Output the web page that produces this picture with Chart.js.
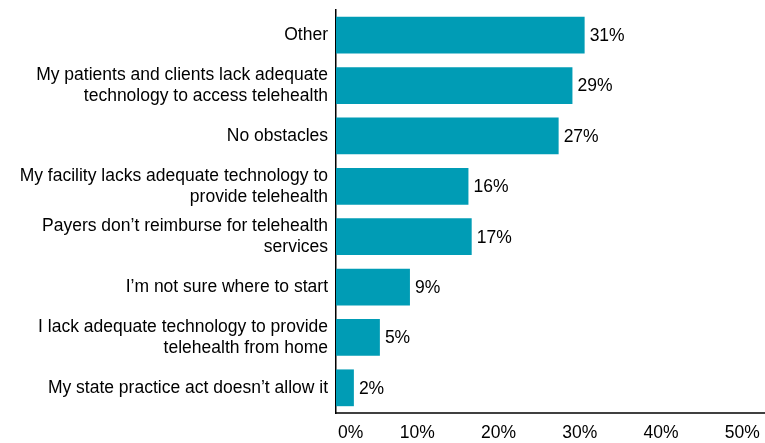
<!DOCTYPE html>
<html>
<head>
<meta charset="utf-8">
<script src="https://cdn.jsdelivr.net/npm/chart.js@4"></script>
<style>
  html, body { margin: 0; padding: 0; background: #fff; }
  #wrap { width: 765px; height: 443px; position: relative; }
</style>
</head>
<body>
<div id="wrap"><canvas id="obstacles-canvas"></canvas></div>
<script>
// Obstacles to telehealth - horizontal bar chart
const categories = [
    'Other',
    ['My patients and clients lack adequate', 'technology to access telehealth'],
    'No obstacles',
    ['My facility lacks adequate technology to', 'provide telehealth'],
    ['Payers don\u2019t reimburse for telehealth', 'services'],
    'I\u2019m not sure where to start',
    ['I lack adequate technology to provide', 'telehealth from home'],
    'My state practice act doesn\u2019t allow it'
];
const shares = [30.6, 29.1, 27.4, 16.3, 16.7, 9.1, 5.4, 2.2];
const shareLabels = ['31%', '29%', '27%', '16%', '17%', '9%', '5%', '2%'];
const tickValues = [0, 10, 20, 30, 40, 50];

const FONT = 'Arial, "Liberation Sans", sans-serif';
const FONT_SIZE = 17.5;

// draws the value next to each bar end, and the x tick labels
const valueLabels = {
    id: 'valueLabels',
    afterDatasetsDraw(chart) {
        const ctx = chart.ctx;
        const meta = chart.getDatasetMeta(0);
        ctx.save();
        ctx.font = FONT_SIZE + 'px ' + FONT;
        ctx.fillStyle = '#000';
        ctx.textAlign = 'left';
        ctx.textBaseline = 'middle';
        meta.data.forEach((bar, i) => {
            ctx.fillText(shareLabels[i], bar.x + 5, bar.y + 1);
        });

        // x tick labels (first one sits just right of the axis, like the original)
        const xs = chart.scales.x;
        tickValues.forEach(v => {
            const px = xs.getPixelForValue(v);
            if (v === 0) {
                ctx.textAlign = 'left';
                ctx.fillText(v + '%', px + 2, xs.bottom - 10);
            } else {
                ctx.textAlign = 'center';
                ctx.fillText(v + '%', px, xs.bottom - 10);
            }
        });
        ctx.restore();
    }
};

const ctx = document.getElementById('obstacles-canvas');
new Chart(ctx, {
    type: 'bar',
    data: {
        labels: categories,
        datasets: [{
            data: shares,
            backgroundColor: '#009CB5',
            borderWidth: 0,
            barPercentage: 0.73,
            categoryPercentage: 1.0
        }]
    },
    options: {
        indexAxis: 'y',
        responsive: true,
        maintainAspectRatio: false,
        animation: false,
        layout: {
            padding: { top: 10, right: 0, bottom: 0, left: 0 }
        },
        plugins: {
            legend: { display: false },
            tooltip: { enabled: false }
        },
        scales: {
            x: {
                min: 0,
                max: 52.8, // axis line runs a little past the 50% mark
                afterBuildTicks(scale) {
                    scale.ticks = tickValues.map(v => ({ value: v }));
                },
                afterFit(scale) {
                    scale.height = 30;
                    scale.paddingLeft = 0;
                    scale.paddingRight = 0;
                },
                grid: { display: false, drawTicks: false },
                border: { display: true, color: '#404040', width: 2 },
                ticks: { display: false }
            },
            y: {
                afterFit(scale) {
                    scale.width = 336;
                    scale.paddingTop = 0;
                    scale.paddingBottom = 0;
                },
                grid: { display: false, drawTicks: false },
                border: { display: true, color: '#000', width: 1.5 },
                ticks: {
                    color: '#000',
                    padding: 8,
                    font: { family: FONT, size: FONT_SIZE, lineHeight: 1.2 }
                }
            }
        }
    },
    plugins: [valueLabels]
});
</script>
</body>
</html>
